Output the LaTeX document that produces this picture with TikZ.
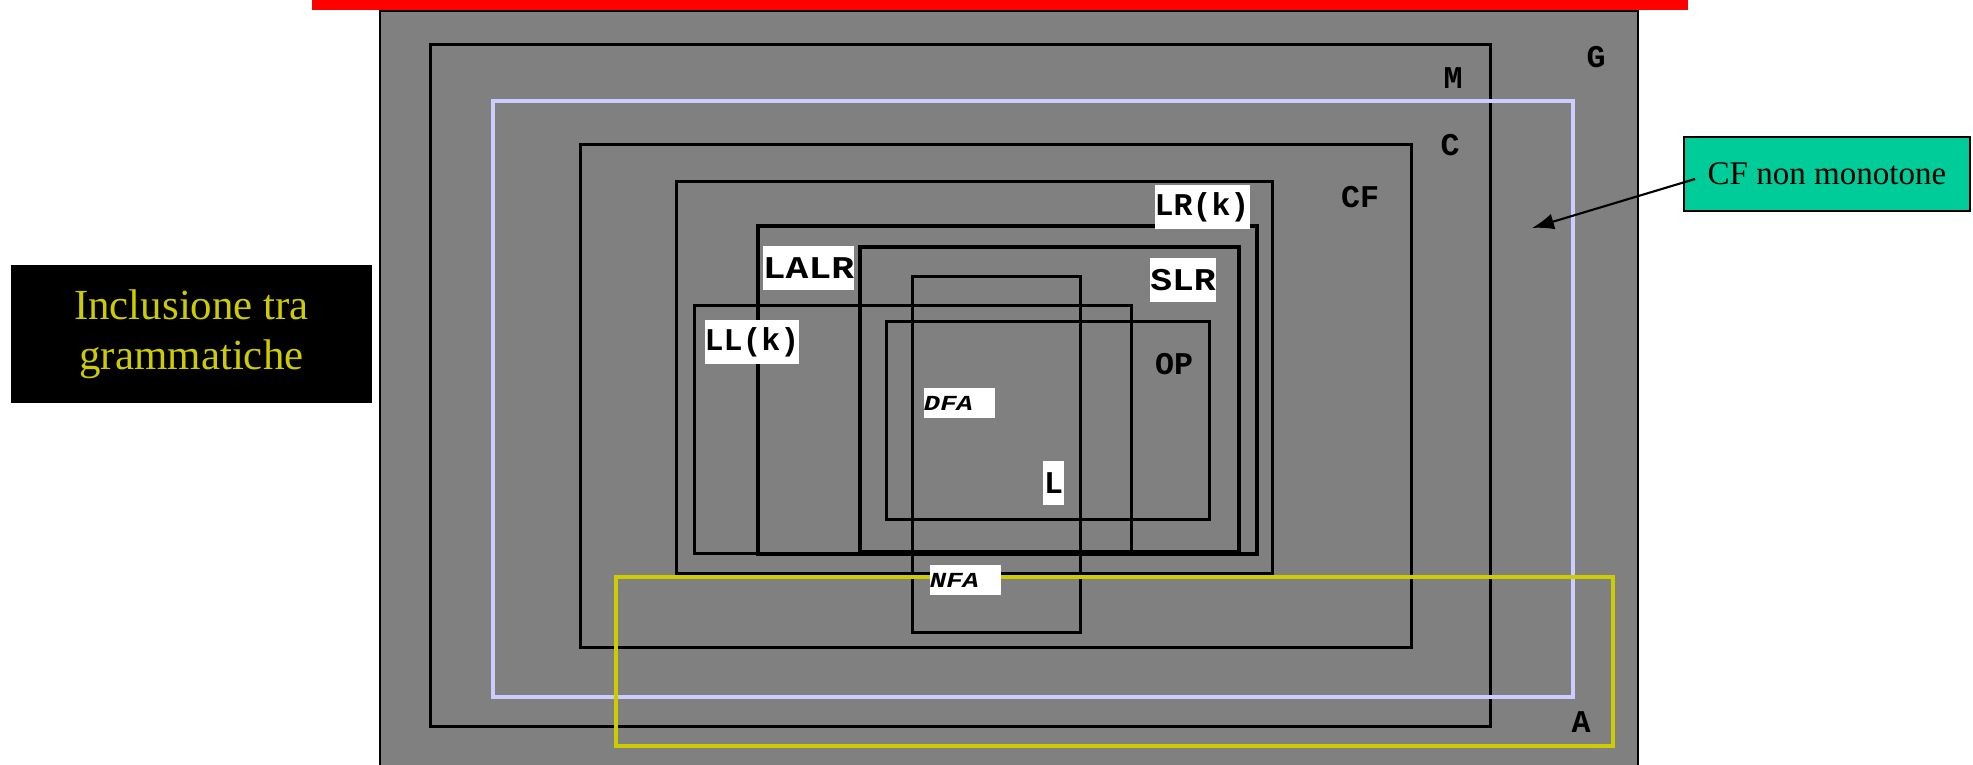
\documentclass[tikz,border=0pt]{standalone}
\usepackage{xcolor}
\usepackage{fontspec}
\setmainfont{Liberation Serif}
\setmonofont{Liberation Mono}
\newfontfamily\widemono[FakeStretch=1.2]{Liberation Mono}
\newfontfamily\semimono[FakeStretch=1.15]{Liberation Mono}
\newfontfamily\autmono[FakeStretch=1.27]{Liberation Mono}
\usepackage{tikz}
\usetikzlibrary{arrows.meta, positioning}

\definecolor{setgray}{RGB}{128,128,128}
\definecolor{lavender}{RGB}{204,204,255}
\definecolor{setyellow}{RGB}{204,204,0}
\definecolor{notegreen}{RGB}{0,204,153}

\begin{document}
\begin{tikzpicture}[x=0.01cm, y=-0.01cm,
	setbox/.style={draw=black, line width=0.85pt},
	thickset/.style={draw=black, line width=1.2pt},
	lab/.style={inner sep=0pt, font=\ttfamily\bfseries\fontsize{9}{9}\selectfont},
	whitelab/.style={lab, fill=white, minimum height=0.44cm},
	autlab/.style={inner sep=0pt, fill=white, text width=0.71cm, minimum height=0.3cm, align=left,
		font=\autmono\bfseries\itshape\fontsize{6.1}{6.1}\selectfont}]
	\useasboundingbox (0,0) rectangle (1973,765);

	% cornice
	\fill[red] (312,0) rectangle (1688,10);
	\fill[setgray] (380,11) rectangle (1638,766);
	\draw[line width=0.7pt] (380,766) |- (1638,11) -- (1638,766);

	% insiemi
	\draw[setbox] (430,45) rectangle (1490,727);
	\draw[lavender, line width=0.9pt] (493,101) rectangle (1573,697);
	\draw[setbox] (580,145) rectangle (1411,648);
	\draw[setbox] (676,182) rectangle (1272,574);
	\draw[thickset] (758,226) rectangle (1257,554);
	\draw[thickset] (860,247) rectangle (1239,552);
	\draw[setbox] (694,306) rectangle (1131,554);
	\draw[setbox] (886,322) rectangle (1209,520);
	\draw[setbox] (912,277) rectangle (1080,633);
	\draw[setyellow, line width=1.2pt] (616,577) rectangle (1613,746);

	% etichette
	\node[lab] (gl) at (1596,57) {G};
	\node[lab] (ml) at (1453,78) {M};
	\node[lab] (cl) at (1450,145) {C};
	\node[lab] (cfl) at (1360,197) {CF};
	\node[lab] (opl) at (1174,364) {OP};
	\node[lab] (al) at (1581,722) {A};
	\node[whitelab, minimum width=0.93cm] (lrk) at (1202,207.5) {LR(k)};
	\node[whitelab, minimum width=0.64cm, font=\semimono\bfseries\fontsize{9}{9}\selectfont] (slr) at (1183,280) {SLR};
	\node[whitelab, minimum width=0.89cm, font=\widemono\bfseries\fontsize{9}{9}\selectfont] (lalr) at (808.5,268) {LALR};
	\node[whitelab, minimum width=0.92cm] (llk) at (752,342) {LL(k)};
	\node[autlab] (dfa) at (959.5,403) {DFA};
	\node[whitelab, minimum width=0.21cm] (ll) at (1053.5,483) {L};
	\node[autlab] (nfa) at (965.5,580) {NFA};

	% titolo e nota
	\node[fill=black, minimum width=3.61cm, minimum height=1.38cm, text=setyellow, align=center,
		font=\fontsize{12.2}{14.2}\selectfont] (title) at (191.5,334) {Inclusione tra\\grammatiche};
	\node[draw=black, line width=0.5pt, fill=notegreen, minimum width=2.86cm, minimum height=0.74cm,
		font=\fontsize{9.4}{9.4}\selectfont] (cfnm) at (1827,174) {CF non monotone};
	\coordinate (cftip) at (1532,228);
	\draw[line width=0.6pt, -{Latex[length=0.22cm, width=0.16cm]}] ([xshift=0.12cm, yshift=-0.05cm]cfnm.west) -- (cftip);
\end{tikzpicture}
\end{document}
